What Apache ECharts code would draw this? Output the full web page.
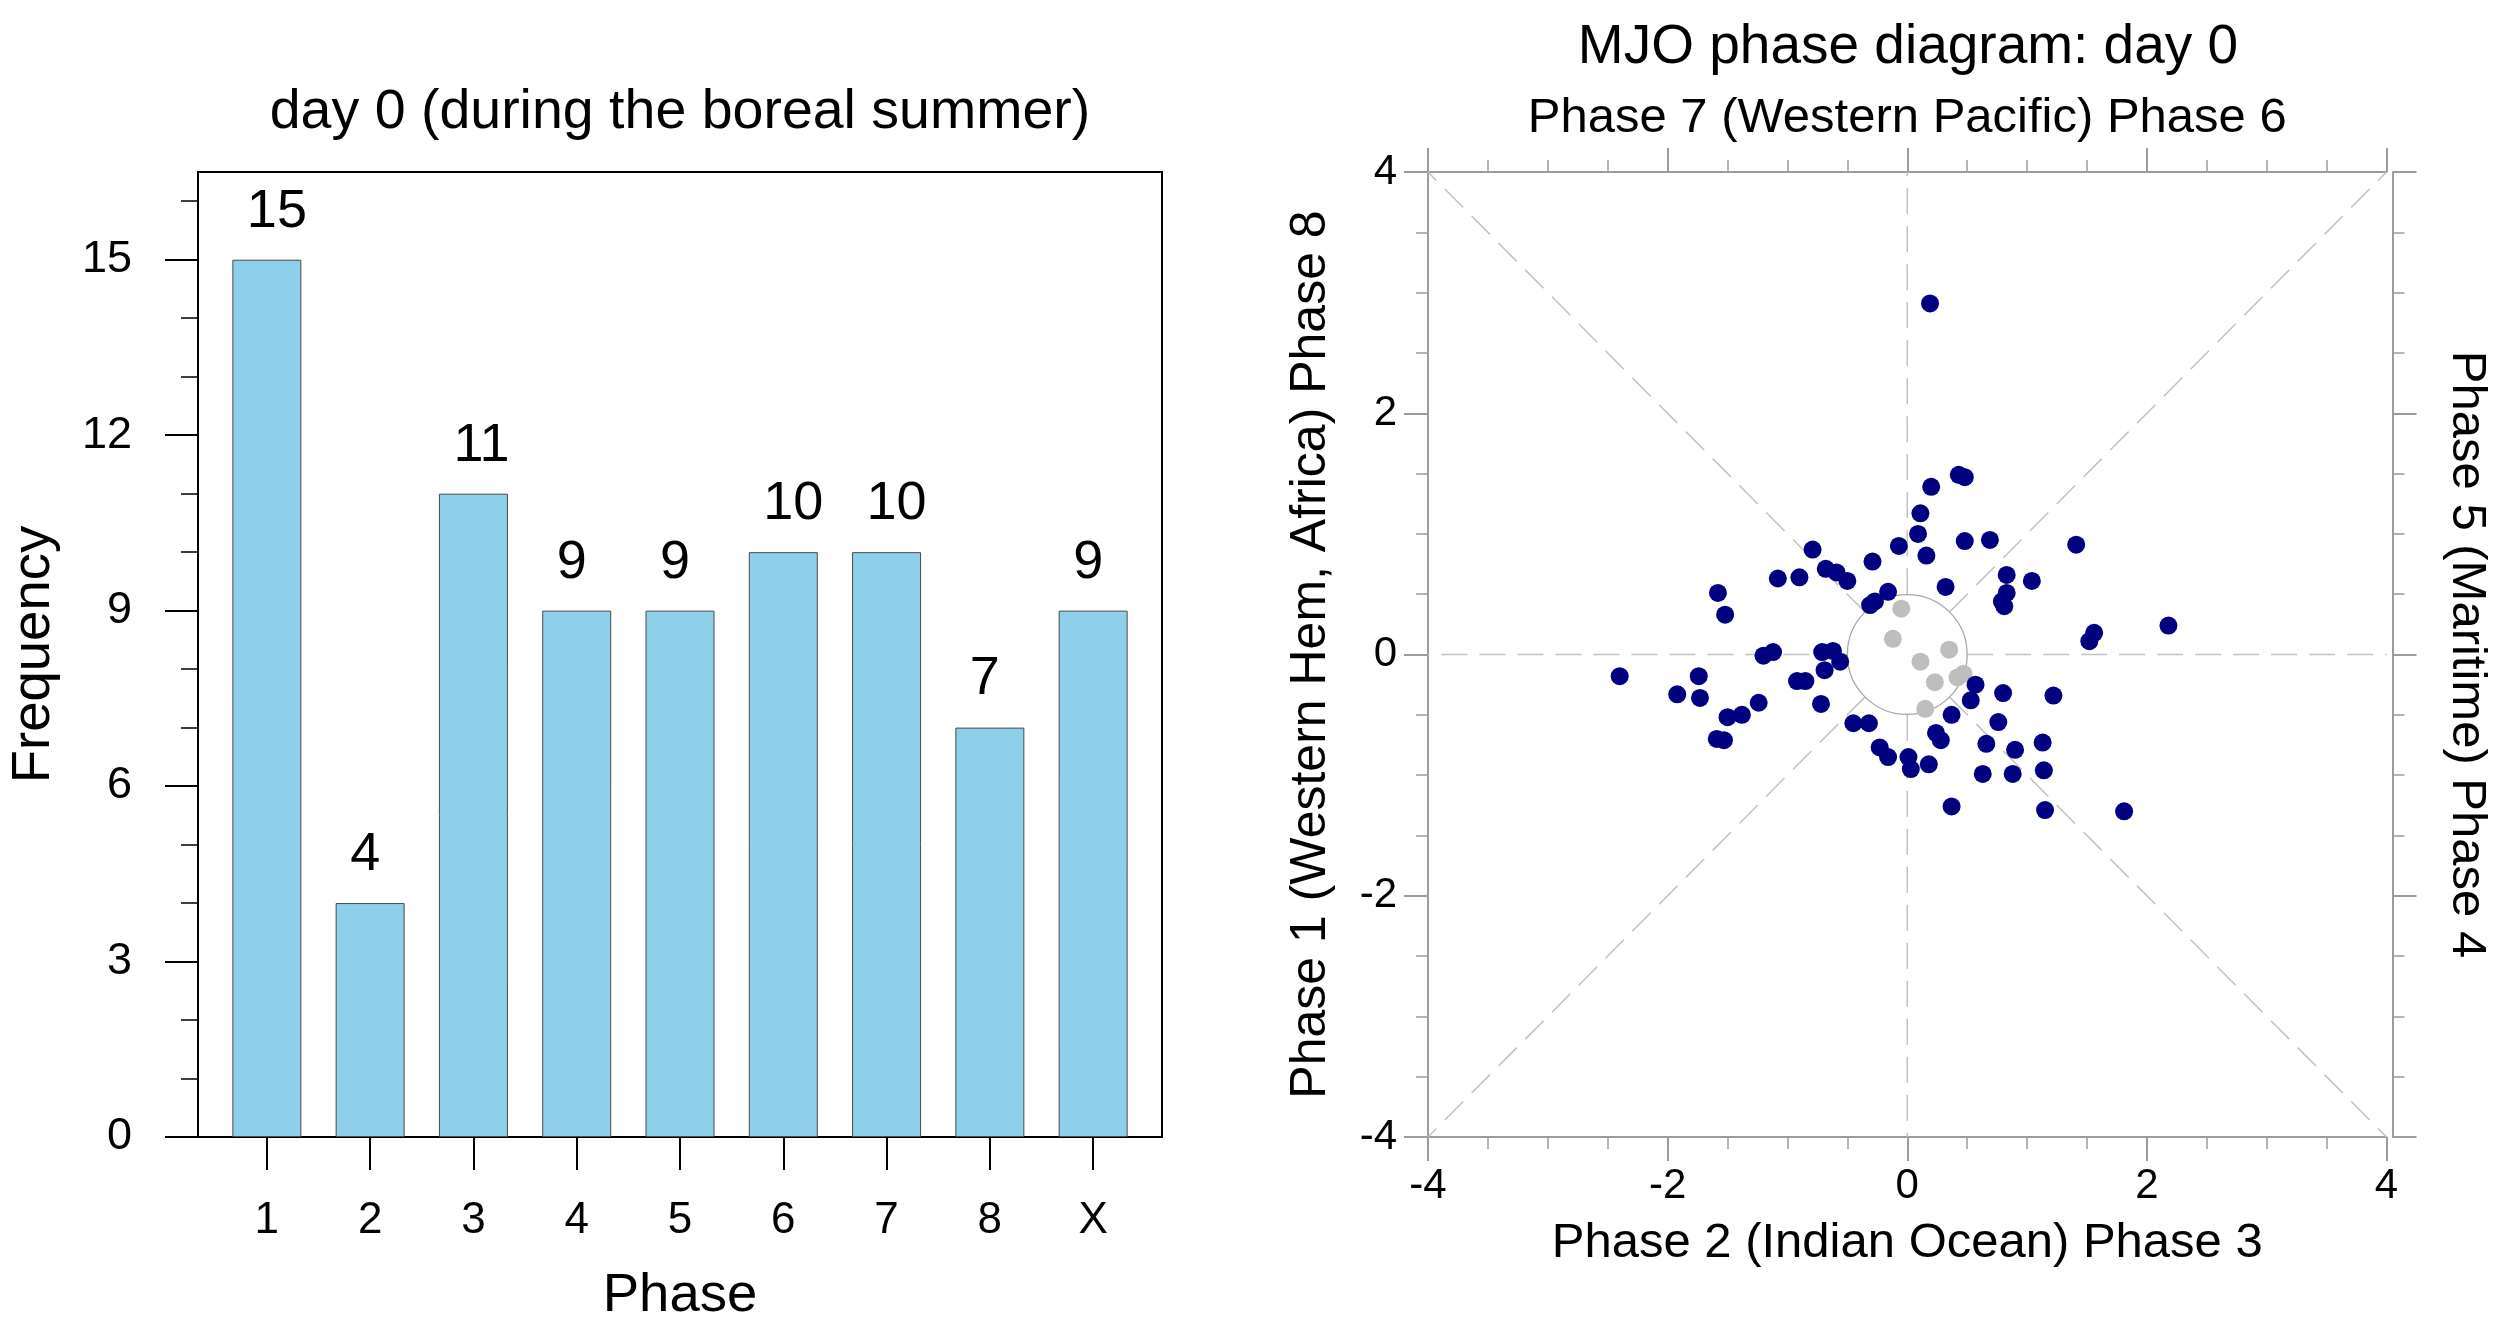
<!DOCTYPE html>
<html>
<head>
<meta charset="utf-8">
<script src="https://cdn.jsdelivr.net/npm/echarts@6/dist/echarts.min.js"></script>
<style>
  html, body { margin: 0; padding: 0; background: #ffffff; }
  #chart { width: 2499px; height: 1318px; }
</style>
</head>
<body>
<div id="chart"></div>
<script>
// Phase-frequency histogram (day 0, boreal summer)
const phaseLabels = ['1', '2', '3', '4', '5', '6', '7', '8', 'X'];
const phaseCounts = [15, 4, 11, 9, 9, 10, 10, 7, 9];
const freqMajorTicks = [0, 3, 6, 9, 12, 15];
const freqMinorTicks = [1, 2, 4, 5, 7, 8, 10, 11, 13, 14, 16];

// MJO phase space: strong events (amplitude outside the circle)
const strongRMM1 = [0.19, 0.43, 0.48, 0.20, 0.11, 0.09, 0.48, 0.69, 1.41, -0.79,
  -0.07, 0.16, -0.29, -1.08, -0.90, -0.68, -0.59, -0.50, -0.16, 0.32,
  0.83, 1.04, 0.83, 0.79, 0.81, -1.58, -1.52, -0.31, -0.27, 1.56,
  1.52, 2.18, -0.71, -0.62, -0.56, -0.69, -1.20, -1.12, -2.40, -1.92,
  -1.74, -1.73, -0.92, -0.85, -0.72, -1.24, -1.50, -1.38, -1.59, -1.53,
  -0.45, -0.32, -0.23, -0.16, 0.01, 0.03, 0.18, 0.57, 0.53, 0.80,
  1.22, 0.37, 0.76, 0.24, 0.28, 0.66, 0.90, 1.13, 0.63, 0.88,
  1.14, 0.37, 1.15, 1.81];
const strongRMM2 = [2.91, 1.49, 1.47, 1.39, 1.17, 1.00, 0.94, 0.95, 0.91, 0.87,
  0.90, 0.82, 0.77, 0.63, 0.64, 0.71, 0.68, 0.61, 0.52, 0.56,
  0.66, 0.61, 0.51, 0.44, 0.40, 0.51, 0.33, 0.41, 0.44, 0.18,
  0.11, 0.24, 0.02, 0.03, -0.06, -0.13, -0.01, 0.02, -0.18, -0.33,
  -0.18, -0.36, -0.22, -0.22, -0.41, -0.40, -0.52, -0.50, -0.70, -0.71,
  -0.57, -0.57, -0.77, -0.85, -0.85, -0.95, -0.91, -0.25, -0.38, -0.32,
  -0.34, -0.50, -0.56, -0.65, -0.71, -0.74, -0.79, -0.73, -0.99, -0.99,
  -0.96, -1.26, -1.29, -1.30];
// weak events (inside the circle)
const weakRMM1 = [-0.05, -0.12, 0.11, 0.35, 0.23, 0.42, 0.47, 0.15];
const weakRMM2 = [0.38, 0.13, -0.06, 0.04, -0.23, -0.19, -0.16, -0.45];

const mjoTicks = [-4, -2, 0, 2, 4];
const weakRadius = 0.5;

// phase-boundary guide lines, from the circle out to the frame
const d = weakRadius * Math.SQRT1_2;
const guideSegments = [
  [weakRadius, 0, 4, 0], [-weakRadius, 0, -4, 0],
  [0, weakRadius, 0, 4], [0, -weakRadius, 0, -4],
  [d, d, 4, 4], [-d, d, -4, 4], [d, -d, 4, -4], [-d, -d, -4, -4]
];

const FONT = '"Liberation Sans", Arial, Helvetica, sans-serif';
const GRAY_AXIS = '#9c9c9c';

const chart = echarts.init(document.getElementById('chart'), null, { renderer: 'canvas' });

const grayAxisCommon = {
  gridIndex: 1, type: 'value', min: mjoTicks[0], max: mjoTicks[mjoTicks.length - 1], interval: 2,
  axisLine: { show: true, onZero: false, lineStyle: { color: GRAY_AXIS, width: 2 } },
  axisTick: { show: true, inside: false, length: 24, lineStyle: { color: GRAY_AXIS, width: 2 } },
  minorTick: { show: true, splitNumber: 4, length: 12, lineStyle: { color: GRAY_AXIS, width: 1.5 } },
  splitLine: { show: false },
  minorSplitLine: { show: false },
  nameLocation: 'middle',
  nameTextStyle: { fontFamily: FONT, fontSize: 49, color: '#000' }
};

const option = {
  animation: false,
  backgroundColor: '#ffffff',
  textStyle: { fontFamily: FONT },
  title: [
    {
      text: 'day 0 (during the boreal summer)',
      left: 680, top: 85, textAlign: 'center', padding: 0,
      textStyle: { fontFamily: FONT, fontSize: 55.5, fontWeight: 'normal', color: '#000' }
    },
    {
      text: 'MJO phase diagram: day 0',
      left: 1908, top: 20, textAlign: 'center', padding: 0,
      textStyle: { fontFamily: FONT, fontSize: 55, fontWeight: 'normal', color: '#000' }
    }
  ],
  grid: [
    { left: 198, top: 172, width: 964, height: 965, containLabel: false, outerBoundsMode: 'none',
      show: true, borderColor: '#000', borderWidth: 2, backgroundColor: 'transparent' },
    { left: 1428, top: 172, width: 958.5, height: 965, containLabel: false, outerBoundsMode: 'none', show: false }
  ],
  xAxis: [
    {
      gridIndex: 0, type: 'value', min: 1 / 3, max: 29 / 3, position: 'bottom',
      axisLine: { show: true, onZero: false, lineStyle: { color: '#000', width: 2 } },
      axisTick: { show: true, inside: false, length: 33, customValues: phaseLabels.map((_, i) => i + 1), lineStyle: { color: '#000', width: 2 } },
      axisLabel: {
        show: true, margin: 62, fontSize: 44, color: '#000', fontFamily: FONT,
        customValues: phaseLabels.map((_, i) => i + 1),
        formatter: v => phaseLabels[Math.round(v) - 1]
      },
      splitLine: { show: false },
      name: 'Phase', nameLocation: 'middle', nameGap: 131,
      nameTextStyle: { fontFamily: FONT, fontSize: 54.5, color: '#000' }
    },
    Object.assign({}, grayAxisCommon, {
      position: 'bottom',
      axisLabel: { show: true, margin: 28, fontSize: 42, color: '#000', fontFamily: FONT },
      name: 'Phase 2 (Indian Ocean) Phase 3', nameGap: 82
    }),
    Object.assign({}, grayAxisCommon, {
      position: 'top',
      axisLabel: { show: false },
      name: 'Phase 7 (Western Pacific) Phase 6', nameGap: 29
    })
  ],
  yAxis: [
    {
      gridIndex: 0, type: 'value', min: 0, max: 16.5, position: 'left',
      axisLine: { show: true, onZero: false, lineStyle: { color: '#000', width: 2 } },
      axisTick: { show: true, inside: false, length: 33, customValues: freqMajorTicks, lineStyle: { color: '#000', width: 2 } },
      axisLabel: { show: true, margin: 66, fontSize: 45, color: '#000', fontFamily: FONT, customValues: freqMajorTicks },
      splitLine: { show: false },
      name: 'Frequency', nameLocation: 'middle', nameGap: 137, nameRotate: 90,
      nameTextStyle: { fontFamily: FONT, fontSize: 54.5, color: '#000' }
    },
    {
      gridIndex: 0, type: 'value', min: 0, max: 16.5, position: 'left', offset: 0,
      axisLine: { show: false, onZero: false },
      axisTick: { show: true, inside: false, length: 17, customValues: freqMinorTicks, lineStyle: { color: '#000', width: 1.5 } },
      axisLabel: { show: false },
      splitLine: { show: false }
    },
    Object.assign({}, grayAxisCommon, {
      position: 'left',
      axisLabel: { show: true, margin: 31, fontSize: 42, color: '#000', fontFamily: FONT },
      name: 'Phase 1 (Western Hem, Africa) Phase 8', nameGap: 92, nameRotate: 90,
      nameTextStyle: { fontFamily: FONT, fontSize: 50, color: '#000' }
    }),
    Object.assign({}, grayAxisCommon, {
      position: 'right', offset: 6,
      axisLabel: { show: false },
      name: 'Phase 5 (Maritime) Phase 4', nameGap: 50, nameRotate: -90
    })
  ],
  series: [
    {
      name: 'Frequency',
      type: 'bar',
      xAxisIndex: 0, yAxisIndex: 0,
      barWidth: 69,
      data: phaseCounts.map((c, i) => [i + 1, c]),
      itemStyle: { color: '#8ecfea', borderColor: '#4a4a4a', borderWidth: 1 },
      label: {
        show: true, position: 'top', distance: 21, align: 'left', offset: [-20, 0],
        fontFamily: FONT, fontSize: 54, color: '#000',
        formatter: p => String(p.value[1])
      }
    },
    {
      name: 'guides',
      type: 'custom',
      xAxisIndex: 1, yAxisIndex: 2,
      silent: true,
      encode: { x: [0, 2], y: [1, 3] },
      data: guideSegments,
      renderItem: (params, api) => {
        const p1 = api.coord([api.value(0), api.value(1)]);
        const p2 = api.coord([api.value(2), api.value(3)]);
        return {
          type: 'line',
          shape: { x1: p1[0], y1: p1[1], x2: p2[0], y2: p2[1] },
          style: { stroke: '#c2c2c2', lineWidth: 1.5, lineDash: [26, 12], fill: null }
        };
      }
    },
    {
      name: 'weak circle',
      type: 'custom',
      xAxisIndex: 1, yAxisIndex: 2,
      silent: true,
      data: [[0, 0, weakRadius]],
      renderItem: (params, api) => {
        const c = api.coord([api.value(0), api.value(1)]);
        const e = api.coord([api.value(0) + api.value(2), api.value(1)]);
        return {
          type: 'circle',
          shape: { cx: c[0], cy: c[1], r: e[0] - c[0] },
          style: { stroke: '#a8a8a8', lineWidth: 1.3, fill: null }
        };
      }
    },
    {
      name: 'weak',
      type: 'scatter',
      xAxisIndex: 1, yAxisIndex: 2,
      symbol: 'circle', symbolSize: 18,
      itemStyle: { color: '#bebebe', opacity: 1 },
      data: weakRMM1.map((x, i) => [x, weakRMM2[i]])
    },
    {
      name: 'strong',
      type: 'scatter',
      xAxisIndex: 1, yAxisIndex: 2,
      symbol: 'circle', symbolSize: 18,
      itemStyle: { color: '#000080', opacity: 1 },
      data: strongRMM1.map((x, i) => [x, strongRMM2[i]])
    }
  ]
};

chart.setOption(option);
</script>
</body>
</html>
